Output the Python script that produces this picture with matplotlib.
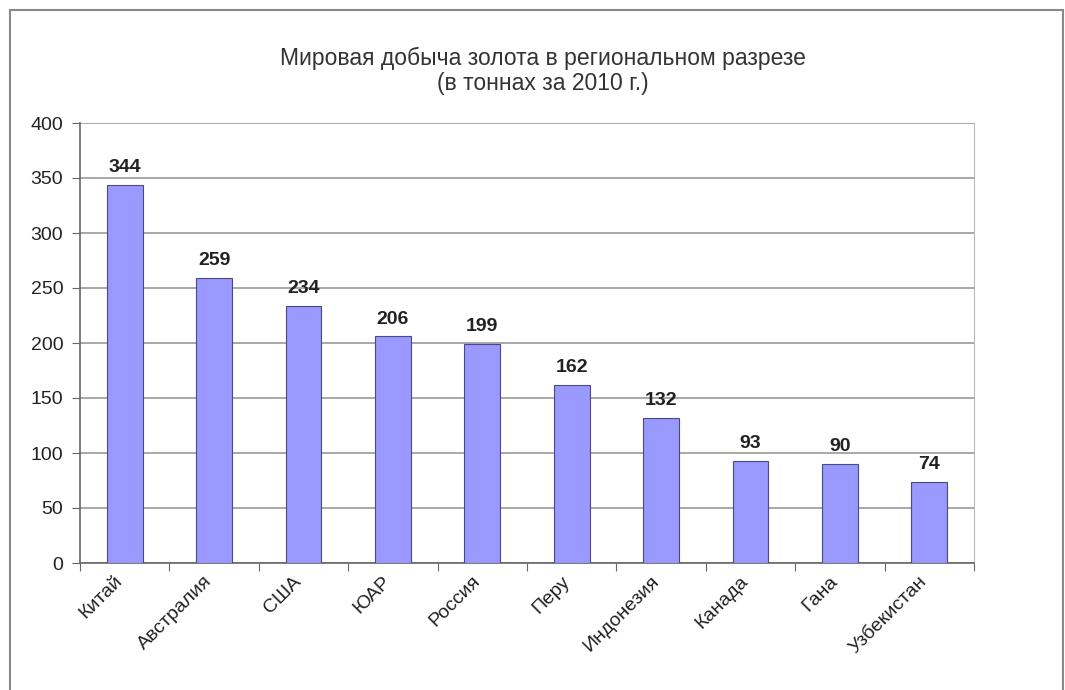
import matplotlib.pyplot as plt
from matplotlib.patches import Rectangle

plt.rcParams['font.family'] = ['Liberation Sans', 'DejaVu Sans']

countries = ['Китай', 'Австралия', 'США', 'ЮАР', 'Россия', 'Перу',
             'Индонезия', 'Канада', 'Гана', 'Узбекистан']
tonnes = [344, 259, 234, 206, 199, 162, 132, 93, 90, 74]
title = 'Мировая добыча золота в региональном разрезе\n(в тоннах за 2010 г.)'

W, H = 1065, 690
fig = plt.figure(figsize=(W / 100, H / 100), dpi=100)
ax = fig.add_axes([80 / W, 1 - 563 / H, (974 - 80) / W, (563 - 123) / H])

x = list(range(len(countries)))
ax.bar(x, tonnes, width=0.4, color='#9999ff', edgecolor='#4a4a80',
       linewidth=0.8, zorder=3)
for i, v in zip(x, tonnes):
    ax.text(i, v + 8, str(v), ha='center', va='bottom', fontsize=14,
            fontweight='bold', color='#222222')

ax.set_xlim(-0.5, len(countries) - 0.5)
ax.set_ylim(0, 400)
ax.set_yticks(range(0, 401, 50))
ax.yaxis.grid(True, color='#999999', linewidth=1.2, zorder=0)
ax.set_xticks([i - 0.5 for i in range(len(countries) + 1)], minor=False)
ax.set_xticklabels([])
# labels sit a little left of the bar centre, like the original
ax.set_xticks([i - 0.12 for i in x], minor=True)
ax.set_xticklabels(countries, minor=True, rotation=45, ha='right',
                   rotation_mode='anchor', fontsize=14, color='#222222')
ax.tick_params(axis='x', which='minor', length=0, pad=7)
ax.tick_params(axis='x', which='major', length=6, color='#666666', direction='out')
ax.tick_params(axis='y', length=6, color='#666666', labelsize=14,
               labelcolor='#222222', pad=6)
for s in ['left', 'bottom']:
    ax.spines[s].set_color('#666666')
    ax.spines[s].set_linewidth(1.2)
ax.spines['right'].set_color('#bbbbbb')
ax.spines['top'].set_visible(False)

fig.text(543 / W, 1 - 71 / H, title, ha='center', va='center',
         fontsize=16.5, color='#333333', linespacing=1.1)

fig.patches.append(Rectangle((10 / W, -0.1), (1063 - 10) / W, 1 - 10 / H + 0.1,
                             transform=fig.transFigure, fill=False,
                             edgecolor='#888888', linewidth=1.5))

fig.savefig('out.png', dpi=100)
